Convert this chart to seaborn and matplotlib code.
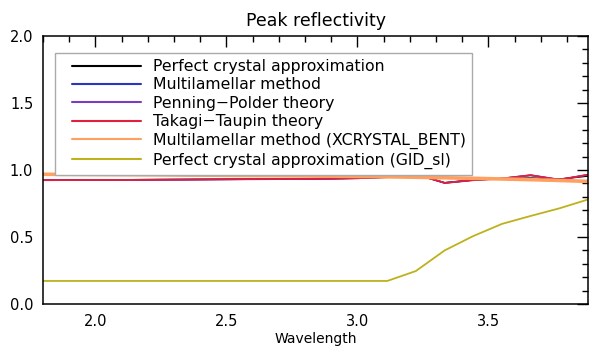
import matplotlib
matplotlib.use("Agg")
import matplotlib.pyplot as plt
import seaborn as sns
import numpy as np
from matplotlib.ticker import MultipleLocator
from matplotlib.legend_handler import HandlerLine2D

wavelength = [1.800, 1.909, 2.019, 2.128, 2.238, 2.347, 2.457, 2.566, 2.676, 2.785,
              2.895, 3.004, 3.114, 3.223, 3.333, 3.442, 3.552, 3.661, 3.771, 3.880]

perfect_crystal = [0.926, 0.926, 0.927, 0.927, 0.928, 0.929, 0.930, 0.931, 0.932, 0.933,
                   0.935, 0.938, 0.946, 0.966, 0.905, 0.926, 0.936, 0.940, 0.932, 0.955]
multilamellar = [0.925, 0.925, 0.926, 0.927, 0.928, 0.929, 0.930, 0.931, 0.933, 0.934,
                 0.936, 0.940, 0.948, 0.969, 0.903, 0.925, 0.937, 0.960, 0.928, 0.964]
penning_polder = [0.925, 0.925, 0.926, 0.927, 0.928, 0.929, 0.930, 0.931, 0.932, 0.934,
                  0.936, 0.939, 0.948, 0.970, 0.904, 0.925, 0.937, 0.962, 0.927, 0.965]
takagi_taupin = [0.924, 0.925, 0.926, 0.926, 0.927, 0.928, 0.930, 0.931, 0.932, 0.933,
                 0.935, 0.939, 0.947, 0.969, 0.903, 0.924, 0.936, 0.961, 0.928, 0.965]
xcrystal_bent = [0.968, 0.967, 0.966, 0.965, 0.964, 0.962, 0.961, 0.959, 0.958, 0.956,
                 0.954, 0.952, 0.949, 0.946, 0.942, 0.938, 0.933, 0.928, 0.922, 0.915]
gid_sl = [0.172, 0.172, 0.172, 0.172, 0.172, 0.172, 0.172, 0.172, 0.172, 0.172,
          0.172, 0.172, 0.172, 0.246, 0.400, 0.507, 0.598, 0.657, 0.714, 0.780]

labels = ["Perfect crystal approximation", "Multilamellar method",
          "Penning\u2212Polder theory", "Takagi\u2212Taupin theory",
          "Multilamellar method (XCRYSTAL_BENT)", "Perfect crystal approximation (GID_sl)"]
series = [perfect_crystal, multilamellar, penning_polder, takagi_taupin, xcrystal_bent, gid_sl]
colors = ["#000000", "#2a35c0", "#7a3cc0", "#e0203c", "#ffa060", "#bdb21c"]
widths = [1.1, 1.1, 1.1, 1.3, 2.6, 1.3]


class OffsetLineHandler(HandlerLine2D):
    """Draw the legend sample only on the right part of the handle box."""
    def __init__(self, lead, **kw):
        super().__init__(**kw)
        self.lead = lead

    def create_artists(self, legend, orig_handle, xdescent, ydescent, width, height,
                       fontsize, trans):
        artists = super().create_artists(legend, orig_handle, xdescent, ydescent,
                                         width, height, fontsize, trans)
        for a in artists:
            xd = np.asarray(a.get_xdata(), dtype=float)
            if len(xd) >= 2:
                a.set_xdata(np.linspace(xd[0] + self.lead, xd[-1], len(xd)))
        return artists


sns.set_style("white")
plt.rcParams['font.family'] = ['DejaVu Sans']
plt.rcParams['text.color'] = 'black'
plt.rcParams['xtick.color'] = 'black'
plt.rcParams['ytick.color'] = 'black'
plt.rcParams['axes.labelcolor'] = 'black'

fig = plt.figure(figsize=(5.89, 3.52), dpi=100)
ax = fig.add_axes([43/589, 1-304/352, (588-43)/589, (304-36)/352])

for y, lab, c, w in zip(series, labels, colors, widths):
    sns.lineplot(x=wavelength, y=y, ax=ax, color=c, lw=w, label=lab)

ax.set_xlim(1.8, 3.88)
ax.set_ylim(0, 2.0)
ax.xaxis.set_major_locator(MultipleLocator(0.5))
ax.xaxis.set_minor_locator(MultipleLocator(0.1))
ax.yaxis.set_major_locator(MultipleLocator(0.5))
ax.yaxis.set_minor_locator(MultipleLocator(0.1))
ax.xaxis.set_major_formatter(plt.FuncFormatter(lambda v, p: f"{v:.1f}"))
ax.yaxis.set_major_formatter(plt.FuncFormatter(lambda v, p: f"{v:.1f}"))
ax.tick_params(which='both', direction='in', top=True, right=True, color='black', width=1.0)
ax.tick_params(which='major', length=8, labelsize=10.5, pad=7)
ax.tick_params(which='minor', length=4)
for s in ax.spines.values():
    s.set_color('black')
    s.set_linewidth(1.1)

ax.set_title("Peak reflectivity", fontsize=12.5, pad=7)
ax.set_xlabel("Wavelength", fontsize=10, labelpad=2)
ax.set_ylabel("")

fs = 11.3
fs_px = fs * 100 / 72
pad_px = 6
lead_pt = (72 - (55 + pad_px)) * 72 / 100
hl = (141 - (55 + pad_px)) / fs_px
handles, labs = ax.get_legend_handles_labels()
leg = ax.legend(handles, labs, loc='upper left', bbox_to_anchor=(12/545, (304-53)/268),
                borderaxespad=0, fontsize=fs, handlelength=hl,
                handletextpad=12/fs_px, labelspacing=0.22,
                borderpad=pad_px/fs_px, fancybox=False, framealpha=1, edgecolor='#aaaaaa',
                handler_map={h: OffsetLineHandler(lead_pt) for h in handles})
leg.get_frame().set_linewidth(1.0)
for line in leg.get_lines():
    line.set_linewidth(1.5)

fig.savefig("out.png", dpi=100)
